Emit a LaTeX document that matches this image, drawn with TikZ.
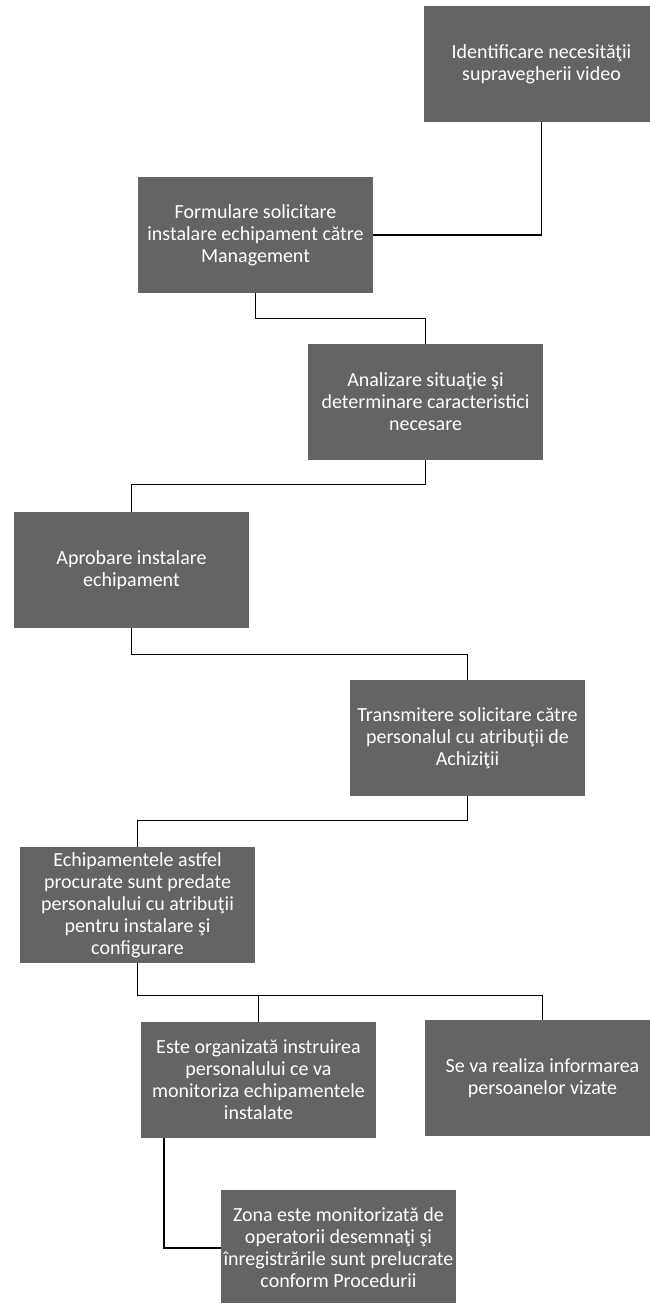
\documentclass[tikz,border=0pt]{standalone}
\usepackage{fontspec}
\setmainfont{Carlito}
\usepackage{tikz}
\usetikzlibrary{calc}
\definecolor{boxgray}{RGB}{100,100,100}
\tikzstyle{stepbox}=[
  fill=boxgray,text=white,minimum width=235pt,minimum height=116pt,
  align=center,inner sep=2pt,font=\fontsize{20}{22}\selectfont
]
\tikzstyle{link}=[
  line width=1.4pt,black
]

\begin{document}
\begin{tikzpicture}[x=1pt,y=-1pt]
  \useasboundingbox (0,0) rectangle (649,1303);
  \node (ident) at (541.5,64) [stepbox] {Identificare necesităţii\\supravegherii video};
  \node (form) at (255.5,235) [stepbox] {Formulare solicitare\\instalare echipament către\\Management};
  \node (anal) at (425.5,402) [stepbox] {Analizare situaţie şi\\determinare caracteristici\\necesare};
  \node (aprob) at (131.5,570) [stepbox] {Aprobare instalare\\echipament};
  \node (trans) at (467.5,738) [stepbox] {Transmitere solicitare către\\personalul cu atribuţii de\\Achiziţii};
  \node (echip) at (137.5,905) [stepbox] {Echipamentele astfel\\procurate sunt predate\\personalului cu atribuţii\\pentru instalare şi\\configurare};
  \node (instr) at (258.5,1080) [stepbox] {Este organizată instruirea\\personalului ce va\\monitoriza echipamentele\\instalate};
  \node (inform) at (542.5,1078) [stepbox] {Se va realiza informarea\\persoanelor vizate};
  \node (zona) at (338.5,1248) [stepbox] {Zona este monitorizată de\\operatorii desemnaţi şi\\înregistrările sunt prelucrate\\conform Procedurii};

  \draw [link] (ident.south) |- (form.east);
  \draw [link] (form.south) -- ++(0,25) -| (anal.north);
  \draw [link] (anal.south) -- ++(0,24) -| (aprob.north);
  \draw [link] (aprob.south) -- ++(0,26) -| (trans.north);
  \draw [link] (trans.south) -- ++(0,24) -| (echip.north);
  \coordinate (split) at ($(echip.south)+(0,32)$);
  \draw [link] (echip.south) -- (split) -| (inform.north);
  \draw [link] (split -| instr.north) -- (instr.north);
  \draw [link] ($(instr.south west)+(23,0)$) |- (zona.west);
\end{tikzpicture}
\end{document}
